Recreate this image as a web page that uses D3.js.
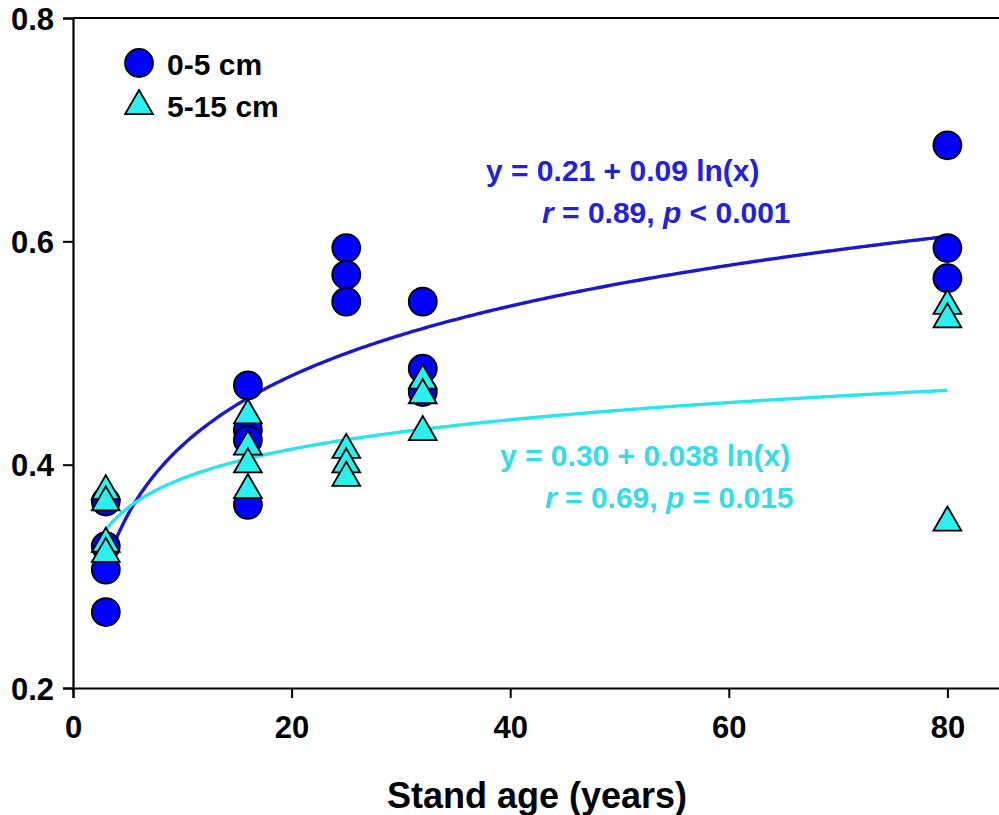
<!DOCTYPE html>
<html>
<head>
<meta charset="utf-8">
<script src="https://cdn.jsdelivr.net/npm/d3@7"></script>
<style>
  body { margin: 0; background: #fff; }
  svg { display: block; font-family: "Liberation Sans", Arial, sans-serif; font-weight: bold; }
</style>
</head>
<body>
<div id="chart"></div>
<script>
// stand age (years) and values
const ageTop = [3, 3, 3, 3, 16, 16, 16, 16, 25, 25, 25, 32, 32, 32, 80, 80, 80];
const valTop = [0.367, 0.327, 0.306, 0.268, 0.471, 0.431, 0.422, 0.364, 0.594, 0.570, 0.546, 0.546, 0.486, 0.465, 0.686, 0.594, 0.567];
const ageSub = [3, 3, 3, 3, 16, 16, 16, 16, 25, 25, 25, 32, 32, 32, 80, 80, 80];
const valSub = [0.378, 0.368, 0.331, 0.322, 0.446, 0.418, 0.402, 0.379, 0.415, 0.402, 0.390, 0.477, 0.464, 0.431, 0.544, 0.532, 0.350];

// log fits y = a + b ln(x)
const fitTop = [0.21, 0.09];
const fitSub = [0.30, 0.038];
const fitRange = [3, 80];

const xTicks = [0, 20, 40, 60, 80];
const yTicks = [0.2, 0.4, 0.6, 0.8];
const seriesNames = ["0-5 cm", "5-15 cm"];

const W = 999, H = 815;
const margin = {top: 18, left: 73};
const blue = "#0000ff", cyan = "#2af0ee";
const blueLine = "#1a1acc", cyanLine = "#2ae6ea";

const svg = d3.select("#chart").append("svg")
    .attr("width", W).attr("height", H);

const x = d3.scaleLinear().domain([0, 85]).range([margin.left, margin.left + 85 * 10.93]);
const y = d3.scaleLinear().domain([0.2, 0.8]).range([688, margin.top]);

// frame (top line)
svg.append("line")
    .attr("x1", x(0)).attr("x2", x(85))
    .attr("y1", y(0.8)).attr("y2", y(0.8))
    .attr("stroke", "#000").attr("stroke-width", 2);

// axes
const xAxis = svg.append("g")
    .attr("transform", `translate(0,${y(0.2)})`)
    .call(d3.axisBottom(x).tickValues(xTicks).tickSize(10).tickPadding(18).tickFormat(d3.format("d")));
const yAxis = svg.append("g")
    .attr("transform", `translate(${x(0)},0)`)
    .call(d3.axisLeft(y).tickValues(yTicks).tickSize(10).tickPadding(9).tickFormat(d3.format(".1f")));

[xAxis, yAxis].forEach(g => {
    g.select(".domain").attr("stroke-width", 2.2);
    g.selectAll(".tick line").attr("stroke-width", 2);
    g.selectAll("text")
        .attr("fill", "#000")
        .style("font-size", "31px")
        .style("font-weight", "bold")
        .style("font-family", "'Liberation Sans', Arial, sans-serif");
});
yAxis.selectAll("text").attr("dy", "0.36em");

svg.append("text")
    .attr("x", 537).attr("y", 808)
    .attr("text-anchor", "middle")
    .style("font-size", "36px")
    .text("Stand age (years)");

// fit curves
const line = d3.line().x(d => x(d[0])).y(d => y(d[1]));
const xs = d3.range(fitRange[0], fitRange[1] + 0.01, 0.25);
[[fitTop, blueLine], [fitSub, cyanLine]].forEach(([c, col]) => {
    svg.append("path")
        .datum(xs.map(v => [v, c[0] + c[1] * Math.log(v)]))
        .attr("fill", "none")
        .attr("stroke", col)
        .attr("stroke-width", 3.4)
        .attr("d", line);
});

// markers
const tri = d3.symbol().type(d3.symbolTriangle).size(335);

svg.append("g").selectAll("circle")
    .data(ageTop.map((a, i) => [a, valTop[i]]))
    .join("circle")
    .attr("cx", d => x(d[0])).attr("cy", d => y(d[1]))
    .attr("r", 14)
    .attr("fill", blue).attr("stroke", "#000").attr("stroke-width", 1.8);

svg.append("g").selectAll("path")
    .data(ageSub.map((a, i) => [a, valSub[i]]))
    .join("path")
    .attr("d", tri)
    .attr("transform", d => `translate(${x(d[0])},${y(d[1]) + 2})`)
    .attr("fill", cyan).attr("stroke", "#000").attr("stroke-width", 1.8);

// legend
svg.append("circle").attr("cx", 139).attr("cy", 63).attr("r", 14)
    .attr("fill", blue).attr("stroke", "#000").attr("stroke-width", 1.8);
svg.append("path").attr("d", tri)
    .attr("transform", "translate(139,106)")
    .attr("fill", cyan).attr("stroke", "#000").attr("stroke-width", 1.8);
seriesNames.forEach((s, i) => {
    svg.append("text")
        .attr("x", 167).attr("y", 75 + i * 42)
        .style("font-size", "30px")
        .text(s);
});

// fit annotations
function note(xp, yp, col, parts) {
    const t = svg.append("text").attr("x", xp).attr("y", yp)
        .attr("fill", col).style("font-size", "30px");
    parts.forEach(p => {
        t.append("tspan").style("font-style", p[1] ? "italic" : "normal").text(p[0]);
    });
}
note(486, 181, "#2222dd", [[`y = ${fitTop[0].toFixed(2)} + ${fitTop[1]} ln(x)`]]);
note(542, 223, "#2222dd", [["r", true], [" = 0.89, "], ["p", true], [" < 0.001"]]);
note(500, 466, "#33dde8", [[`y = ${fitSub[0].toFixed(2)} + ${fitSub[1]} ln(x)`]]);
note(545, 508, "#33dde8", [["r", true], [" = 0.69, "], ["p", true], [" = 0.015"]]);
</script>
</body>
</html>
